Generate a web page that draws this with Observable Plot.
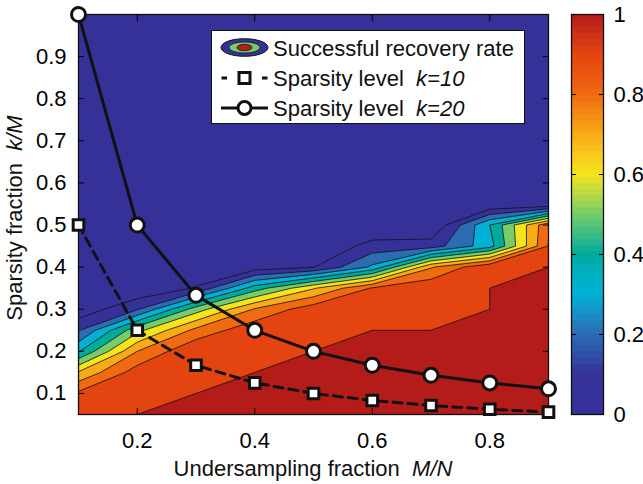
<!DOCTYPE html>
<html>
<head>
<meta charset="utf-8">
<script src="https://cdn.jsdelivr.net/npm/d3@7"></script>
<script src="https://cdn.jsdelivr.net/npm/@observablehq/plot@0.6"></script>
<style>
  body { margin: 0; background: #fff; }
  #chart { position: relative; width: 643px; height: 484px; font-family: "Liberation Sans", Arial, Helvetica, sans-serif; }
  #chart svg { position: absolute; top: 0; }
</style>
</head>
<body>
<div id="chart"></div>
<script>
// ---------- data ----------
const undersampling = [0.1, 0.2, 0.3, 0.4, 0.5, 0.6, 0.7, 0.8, 0.9];
const sparsity = [0.05, 0.10, 0.15, 0.20, 0.25, 0.30, 0.35, 0.40, 0.45, 0.50,
                  0.55, 0.60, 0.65, 0.70, 0.75, 0.80, 0.85, 0.90, 0.95, 1.00];
// successful recovery rate, one row per sparsity value (bottom to top), columns = undersampling
const recoveryRate = [
  [0.96, 1,    1,     1,     1,     1,    1,    1,    1    ], // 0.05
  [0.92, 0.98, 1,     1,     1,     1,    1,    1,    1    ], // 0.10
  [0.71, 0.95, 0.995, 1,     1,     1,    1,    1,    1    ], // 0.15
  [0.39, 0.80, 0.99,  0.995, 1,     1,    1,    1,    1    ], // 0.20
  [0.19, 0.57, 0.83,  0.97,  0.99,  1,    1,    1,    1    ], // 0.25
  [0.03, 0.19, 0.55,  0.81,  0.96,  0.97, 0.99, 1,    1    ], // 0.30
  [0,    0.01, 0.11,  0.45,  0.69,  0.91, 0.98, 1,    1    ], // 0.35
  [0,    0,    0,     0.044, 0.095, 0.32, 0.79, 0.99, 1    ], // 0.40
  [0,    0,    0,     0,     0,     0.14, 0.15, 0.36, 0.905], // 0.45
  [0,    0,    0,     0,     0,     0,    0,    0.40, 0.88 ], // 0.50
  [0, 0, 0, 0, 0, 0, 0, 0, 0], // 0.55
  [0, 0, 0, 0, 0, 0, 0, 0, 0], // 0.60
  [0, 0, 0, 0, 0, 0, 0, 0, 0], // 0.65
  [0, 0, 0, 0, 0, 0, 0, 0, 0], // 0.70
  [0, 0, 0, 0, 0, 0, 0, 0, 0], // 0.75
  [0, 0, 0, 0, 0, 0, 0, 0, 0], // 0.80
  [0, 0, 0, 0, 0, 0, 0, 0, 0], // 0.85
  [0, 0, 0, 0, 0, 0, 0, 0, 0], // 0.90
  [0, 0, 0, 0, 0, 0, 0, 0, 0], // 0.95
  [0, 0, 0, 0, 0, 0, 0, 0, 0]  // 1.00
];
const sparsityK10 = [0.5, 0.25, 0.167, 0.125, 0.1, 0.0833, 0.0714, 0.0625, 0.0556];
const sparsityK20 = [1.0, 0.5, 0.333, 0.25, 0.2, 0.167, 0.143, 0.125, 0.111];

const levels = [0, 0.1, 0.2, 0.3, 0.4, 0.5, 0.6, 0.7, 0.8, 0.9, 1];
const levelColors = ["#363198", "#363198", "#2b6cb3", "#00b1d5", "#00ab9b", "#76cc68",
                     "#f5e31b", "#f9aa17", "#ef6a10", "#e4440f", "#b41c1a"];
const cmapStops = [0, 0.05, 0.1, 0.15, 0.2, 0.25, 0.3, 0.35, 0.4, 0.45, 0.5,
                   0.55, 0.6, 0.65, 0.7, 0.75, 0.8, 0.85, 0.9, 0.95, 1];
const cmapColors = ["#363198", "#363198", "#363299", "#3050a8", "#2b6cb3", "#1890c5", "#00b1d5",
                    "#00afc0", "#00ab9b", "#3cbd85", "#76cc68", "#b8d846", "#f5e31b", "#f9c81e",
                    "#f9aa17", "#f48a14", "#ef6a10", "#ea5610", "#e4440f", "#cc3018", "#b41c1a"];

const xTicks = [0.2, 0.4, 0.6, 0.8];
const yTicks = [0.1, 0.2, 0.3, 0.4, 0.5, 0.6, 0.7, 0.8, 0.9];
const cbTicks = [0, 0.2, 0.4, 0.6, 0.8, 1];

const xTitle = ["Undersampling fraction  ", "M/N"];
const yTitle = ["Sparsity fraction  ", "k/M"];
const legendLabels = [["Successful recovery rate", ""], ["Sparsity level  ", "k=10"], ["Sparsity level  ", "k=20"]];

// ---------- build ----------
const FONT = '"Liberation Sans", Arial, Helvetica, sans-serif';
const FS = 22;
const k10 = undersampling.map((x, i) => ({x, y: sparsityK10[i]}));
const k20 = undersampling.map((x, i) => ({x, y: sparsityK20[i]}));
const dx = undersampling[1] - undersampling[0];
const dy = sparsity[1] - sparsity[0];

const main = Plot.plot({
  width: 643, height: 484,
  marginLeft: 78, marginRight: 95, marginTop: 14, marginBottom: 70,
  style: {fontFamily: FONT, fontSize: FS + "px", color: "black", background: "white"},
  x: {domain: [0.1, 0.9]},
  y: {domain: [0.05, 1.0]},
  color: {type: "ordinal", domain: levels, range: levelColors},
  marks: [
    Plot.contour(recoveryRate.flat(), {
      width: undersampling.length, height: sparsity.length,
      x1: undersampling[0] - dx / 2, x2: undersampling[undersampling.length - 1] + dx / 2,
      y1: sparsity[0] - dy / 2, y2: sparsity[sparsity.length - 1] + dy / 2,
      fill: Plot.identity, thresholds: levels,
      stroke: "#111", strokeWidth: 0.8, clip: true
    }),
    Plot.line(k10, {x: "x", y: "y", stroke: "#111", strokeWidth: 3, strokeDasharray: "9,6"}),
    Plot.line(k20, {x: "x", y: "y", stroke: "#111", strokeWidth: 3}),
    Plot.frame({stroke: "#111", strokeWidth: 1.3}),
    Plot.axisX(xTicks, {anchor: "bottom", tickSize: -6, tickPadding: 24, label: null}),
    Plot.axisX(xTicks, {anchor: "top", tickSize: -6, tickFormat: () => "", label: null}),
    Plot.axisY(yTicks, {anchor: "left", tickSize: -6, tickPadding: 18, label: null}),
    Plot.axisY(yTicks, {anchor: "right", tickSize: -6, tickFormat: () => "", label: null}),
    Plot.dot(k10, {x: "x", y: "y", symbol: "square", r: 6, fill: "white", stroke: "#111", strokeWidth: 3}),
    Plot.dot(k20, {x: "x", y: "y", r: 7, fill: "white", stroke: "#111", strokeWidth: 3})
  ]
});

// axis titles
const svg = d3.select(main);
const xt = svg.append("text").attr("x", 313).attr("y", 476).attr("text-anchor", "middle")
  .style("white-space", "pre").attr("font-size", FS).attr("font-family", FONT).attr("fill", "#111");
xt.append("tspan").text(xTitle[0]);
xt.append("tspan").attr("font-style", "italic").text(xTitle[1]);
const yt = svg.append("text").attr("transform", "translate(22,218) rotate(-90)").attr("text-anchor", "middle")
  .style("white-space", "pre").attr("font-size", FS).attr("font-family", FONT).attr("fill", "#111");
yt.append("tspan").text(yTitle[0]);
yt.append("tspan").attr("font-style", "italic").text(yTitle[1]);

// legend
const lg = svg.append("g").attr("font-family", FONT).attr("font-size", FS).attr("fill", "#111")
  .attr("text-anchor", "start");
lg.append("rect").attr("x", 211.5).attr("y", 30.5).attr("width", 313).attr("height", 93)
  .attr("fill", "white").attr("stroke", "#111").attr("stroke-width", 1);
const rowY = [47.5, 78, 108];
const ix = 244.5;
lg.append("ellipse").attr("cx", ix).attr("cy", rowY[0]).attr("rx", 23.5).attr("ry", 8.8)
  .attr("fill", levelColors[0]).attr("stroke", "#111").attr("stroke-width", 1);
lg.append("ellipse").attr("cx", ix).attr("cy", rowY[0]).attr("rx", 15.5).attr("ry", 5.6)
  .attr("fill", levelColors[5]).attr("stroke", "#111").attr("stroke-width", 0.8);
lg.append("ellipse").attr("cx", ix).attr("cy", rowY[0]).attr("rx", 7.5).attr("ry", 3.3)
  .attr("fill", levelColors[10]).attr("stroke", "#111").attr("stroke-width", 0.8);
[[221.5, 227], [262, 267.5]].forEach(([a, b]) => {
  lg.append("line").attr("x1", a).attr("x2", b).attr("y1", rowY[1]).attr("y2", rowY[1])
    .attr("stroke", "#111").attr("stroke-width", 3);
});
lg.append("rect").attr("x", ix - 5.5).attr("y", rowY[1] - 5.5).attr("width", 11).attr("height", 11)
  .attr("fill", "white").attr("stroke", "#111").attr("stroke-width", 3);
lg.append("line").attr("x1", 221).attr("x2", 268).attr("y1", rowY[2]).attr("y2", rowY[2])
  .attr("stroke", "#111").attr("stroke-width", 3);
lg.append("circle").attr("cx", ix).attr("cy", rowY[2]).attr("r", 6.5)
  .attr("fill", "white").attr("stroke", "#111").attr("stroke-width", 3);
legendLabels.forEach(([a, b], i) => {
  const t = lg.append("text").attr("x", 273).attr("y", rowY[i] + 8)
    .attr("text-anchor", "start").style("white-space", "pre");
  t.append("tspan").text(a);
  if (b) t.append("tspan").attr("font-style", "italic").text(b);
});

// colorbar
const cmap = d3.scaleLinear().domain(cmapStops).range(cmapColors).interpolate(d3.interpolateRgb);
const nSteps = 64;
const strips = d3.range(nSteps).map(i => ({lo: i / nSteps, hi: Math.min(1, (i + 1) / nSteps + 0.002), color: cmap((i + 0.5) / nSteps)}));
const cbar = Plot.plot({
  width: 83, height: 484,
  marginLeft: 11, marginRight: 40, marginTop: 14, marginBottom: 70,
  style: {fontFamily: FONT, fontSize: FS + "px", color: "black", background: "transparent"},
  x: {domain: [0, 1], axis: null},
  y: {domain: [0, 1]},
  color: {type: "identity"},
  marks: [
    Plot.rect(strips, {x1: 0, x2: 1, y1: "lo", y2: "hi", fill: "color"}),
    Plot.frame({stroke: "#111", strokeWidth: 1.3}),
    Plot.axisY(cbTicks, {anchor: "right", tickSize: -5, tickPadding: 15, label: null, tickFormat: (d) => String(d)}),
    Plot.axisY(cbTicks, {anchor: "left", tickSize: -5, tickFormat: () => "", label: null})
  ]
});
cbar.style.left = "560px";

const root = document.getElementById("chart");
main.style.left = "0px";
root.appendChild(main);
root.appendChild(cbar);
</script>
</body>
</html>
